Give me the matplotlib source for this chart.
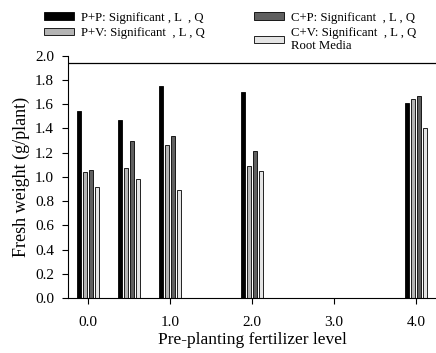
import numpy as np
import matplotlib.pyplot as plt

plt.rcParams['font.family'] = ['Liberation Serif', 'DejaVu Serif']

# fertilizer levels where bar groups sit
levels = [0.0, 0.5, 1.0, 2.0, 4.0]
pp = [1.54, 1.47, 1.75, 1.70, 1.61]
pv = [1.04, 1.07, 1.26, 1.09, 1.64]
cp = [1.06, 1.30, 1.34, 1.21, 1.67]
cv = [0.92, 0.98, 0.89, 1.05, 1.40]
ref_line = 1.94

labels = ['P+P: Significant , L  , Q', 'P+V: Significant  , L , Q',
          'C+P: Significant  , L , Q', 'C+V: Significant  , L , Q\nRoot Media']
colors = ['#000000', '#b4b4b4', '#606060', '#e4e4e4']
series = [pp, pv, cp, cv]

fig = plt.figure(figsize=(4.36, 3.53), dpi=100)
ax = fig.add_axes([0.156, 0.156, 0.844, 0.686])

x = np.array(levels)
w = 0.055
step = 0.073
handles = []
for i, (vals, c, lab) in enumerate(zip(series, colors, labels)):
    h = ax.bar(x + (i - 1.5) * step, vals, w, color=c, edgecolor='black',
               linewidth=0.6, label=lab)
    handles.append(h)

ax.axhline(ref_line, color='black', linewidth=0.9)

ax.set_xlim(-0.244, 4.244)
ax.set_ylim(0, 2.0)
ax.set_xticks([0, 1, 2, 3, 4])
ax.set_xticklabels(['0.0', '1.0', '2.0', '3.0', '4.0'])
ax.set_yticks(np.arange(0, 2.01, 0.2))
ax.set_yticklabels(['%.1f' % v for v in np.arange(0, 2.01, 0.2)])
ax.spines['top'].set_visible(False)
ax.spines['right'].set_visible(False)
ax.tick_params(direction='out', length=4, width=0.8, labelsize=11)
ax.tick_params(axis='x', pad=9)
ax.tick_params(axis='y', pad=6)
ax.set_xlabel('Pre-planting fertilizer level', fontsize=12.5, labelpad=2)
ax.set_ylabel('Fresh weight (g/plant)', fontsize=13, labelpad=4)

fig.legend(handles=handles, loc='upper left', bbox_to_anchor=(0.075, 1.0),
           ncol=2, frameon=False, fontsize=9.2, handlelength=2.3,
           handleheight=0.5, handletextpad=0.55, columnspacing=3.9,
           labelspacing=0.25)

fig.savefig('out.png', dpi=100)
